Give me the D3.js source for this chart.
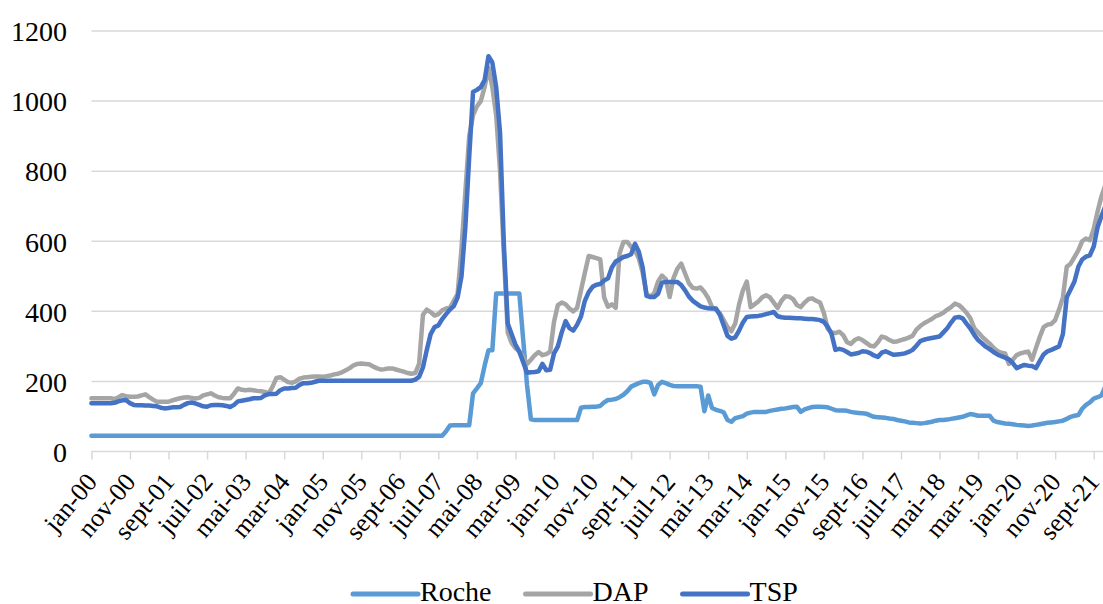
<!DOCTYPE html>
<html><head><meta charset="utf-8">
<script src="https://cdn.jsdelivr.net/npm/d3@7"></script>
<style>html,body{margin:0;padding:0;background:#fff;} svg{display:block;font-family:"Liberation Serif","Times New Roman",Times,serif;}</style>
</head><body>
<svg id="chart" width="1103" height="604"></svg>
<script>
// ---- data (monthly, jan-2000 .. déc-2021) ----
const monthAbbr = ["jan","fév","mar","avr","mai","juin","juil","août","sept","oct","nov","déc"];
const years = ["00","01","02","03","04","05","06","07","08","09","10","11","12","13","14","15","16","17","18","19","20","21"];
const categories = [];
years.forEach(yy => monthAbbr.forEach(m => categories.push(m + "-" + yy)));

const tickLabels = ["jan-00","nov-00","sept-01","juil-02","mai-03","mar-04","jan-05","nov-05","sept-06","juil-07","mai-08","mar-09","jan-10","nov-10","sept-11","juil-12","mai-13","mar-14","jan-15","nov-15","sept-16","juil-17","mai-18","mar-19","jan-20","nov-20","sept-21"];
const yTicks = [0,200,400,600,800,1000,1200];

const roche = [
45,45,45,45,45,45,45,45,45,45,45,45,
45,45,45,45,45,45,45,45,45,45,45,45,
45,45,45,45,45,45,45,45,45,45,45,45,
45,45,45,45,45,45,45,45,45,45,45,45,
45,45,45,45,45,45,45,45,45,45,45,45,
45,45,45,45,45,45,45,45,45,45,45,45,
45,45,45,45,45,45,45,45,45,45,45,45,
45,45,45,45,45,45,45,45,58,74,75,75,
75,75,75,166,180,195,245,289,289,451,451,451,
451,451,451,451,320,190,92,90,90,90,90,90,
90,90,90,90,90,90,90,125,127,127,128,128,
130,140,147,148,150,155,162,172,185,190,195,199,
199,196,163,190,199,195,190,187,186,186,186,186,
186,186,185,115,160,124,119,116,112,90,85,95,
98,101,108,111,113,113,113,113,116,118,120,122,
123,125,127,128,113,120,124,127,128,128,127,126,
122,118,117,117,116,113,111,110,109,108,103,99,
98,97,96,94,93,90,88,86,83,82,81,80,
81,83,85,88,90,90,91,93,95,97,99,103,
107,105,102,102,102,102,88,84,82,80,79,78,
76,75,74,73,74,76,78,80,82,83,84,86,
88,93,99,102,104,122,133,140,151,155,160,185];

const dap = [
152,152,152,152,152,152,150,155,161,158,156,156,
157,160,163,155,148,142,142,142,142,146,149,152,
154,155,153,151,153,160,163,166,160,155,153,152,
152,165,180,176,175,176,175,173,172,170,166,185,
210,212,205,198,196,200,208,211,212,213,214,214,
213,215,217,220,222,226,232,238,246,250,251,250,
249,243,238,234,235,237,237,234,231,228,224,222,
224,250,390,405,398,388,392,403,408,410,430,450,
580,740,900,960,985,1000,1040,1095,1040,960,800,560,
340,310,295,285,270,250,262,275,284,275,278,285,
370,418,425,420,408,400,410,460,510,558,555,552,
548,440,413,420,410,565,598,598,584,574,551,510,
450,441,452,485,502,492,441,495,522,536,508,480,
467,465,468,455,438,412,405,395,375,355,343,365,
420,460,485,412,420,428,440,446,440,425,410,430,
443,442,435,418,412,425,435,437,430,425,395,350,
340,338,342,332,312,307,318,323,318,310,302,300,
312,328,325,318,313,314,318,321,325,330,348,358,
366,372,378,386,390,396,405,412,422,418,408,396,
380,352,340,328,318,308,296,287,282,280,250,262,
275,280,283,285,262,295,327,355,362,364,375,405,
440,527,536,555,574,600,608,603,635,685,728,760];

const tsp = [
138,138,138,138,138,138,139,143,146,147,138,133,
132,132,131,131,130,129,125,123,124,126,126,127,
133,138,140,137,133,129,128,132,133,133,132,130,
127,133,143,145,147,149,152,152,153,160,164,164,
165,175,180,180,181,182,190,195,195,196,199,202,
202,202,202,202,202,202,202,202,202,202,202,202,
202,202,202,202,202,202,202,202,202,202,202,202,
205,213,240,290,335,355,360,378,392,405,415,440,
500,640,840,1026,1032,1040,1060,1128,1110,1040,910,590,
365,335,305,285,255,225,226,227,229,250,232,233,
280,300,340,372,352,345,362,385,430,455,470,476,
478,488,494,525,542,548,555,558,563,593,570,525,
444,441,441,450,482,484,484,484,484,475,460,442,
430,422,414,411,409,408,408,390,360,330,322,326,
345,368,384,385,386,387,389,392,395,398,386,383,
382,382,381,380,380,379,378,378,377,375,370,356,
335,290,293,290,284,277,279,281,286,285,281,274,
270,282,286,281,276,277,278,280,284,290,302,315,
319,322,324,326,328,340,352,368,382,384,380,365,
351,333,318,309,299,292,284,277,272,268,263,252,
238,243,247,245,244,238,258,277,286,290,295,300,
335,440,462,485,527,548,556,560,585,640,672,700];

const seriesNames = ["Roche","DAP","TSP"];
const seriesColors = ["#5b9bd5","#a5a5a5","#4472c4"];

// ---- drawing ----
const FONT = "Liberation Serif, Times New Roman, serif";
const svg = d3.select("#chart");
const X0 = 91.4, X1 = 1105.3, Y0 = 451.5, Y1 = 31;
const x = d3.scalePoint().domain(categories).range([X0, X1]);
const y = d3.scaleLinear().domain([0, 1200]).range([Y0, Y1]);

// gridlines
svg.append("g").selectAll("line").data(yTicks.filter(v => v > 0)).join("line")
  .attr("x1", X0).attr("x2", 1110)
  .attr("y1", d => y(d)).attr("y2", d => y(d))
  .attr("stroke", "#d9d9d9").attr("stroke-width", 1.5);

// y axis labels
const yAxis = svg.append("g").attr("transform", "translate(67,0)")
  .call(d3.axisLeft(y).tickValues(yTicks).tickSize(0).tickPadding(0).tickFormat(d3.format("d")));
yAxis.select(".domain").remove();
yAxis.selectAll("text").attr("font-size", 28).attr("font-family", FONT)
  .attr("fill", "#000").attr("dy", "0.35em");

// x axis
const tickCats = tickLabels.map((t, i) => categories[i * 10]);
const xAxis = svg.append("g").attr("transform", `translate(0,${Y0})`)
  .call(d3.axisBottom(x).tickValues(tickCats).tickSize(8).tickFormat((d, i) => tickLabels[i]));
xAxis.select(".domain").attr("stroke", "#d9d9d9").attr("stroke-width", 1.5)
  .attr("d", `M${X0},0H1110`);
xAxis.selectAll(".tick line").attr("stroke", "#d9d9d9").attr("stroke-width", 1.5);
xAxis.selectAll(".tick text")
  .attr("font-size", 26).attr("font-family", FONT)
  .attr("fill", "#000").attr("text-anchor", "end")
  .attr("x", 0).attr("y", 0).attr("dy", 0)
  .attr("transform", "translate(6.5,31) rotate(-50)");

// lines
const allSeries = [roche, dap, tsp];
const line = d3.line().x((d, i) => x(categories[i])).y(d => y(d));
svg.append("g").selectAll("path").data(allSeries).join("path")
  .attr("d", d => line(d))
  .attr("fill", "none")
  .attr("stroke", (d, i) => seriesColors[i])
  .attr("stroke-width", 4.5)
  .attr("stroke-linejoin", "round")
  .attr("stroke-linecap", "round");

// legend
const legend = svg.append("g");
let lx = 353;
seriesNames.forEach((name, i) => {
  legend.append("line").attr("x1", lx).attr("x2", lx + 65).attr("y1", 594).attr("y2", 594)
    .attr("stroke", seriesColors[i]).attr("stroke-width", 5).attr("stroke-linecap", "round");
  const t = legend.append("text").attr("x", lx + 67).attr("y", 601)
    .attr("font-size", 28).attr("font-family", FONT)
    .attr("fill", "#000").text(name);
  lx = lx + 67 + t.node().getComputedTextLength() + 34;
});
</script>
</body></html>
